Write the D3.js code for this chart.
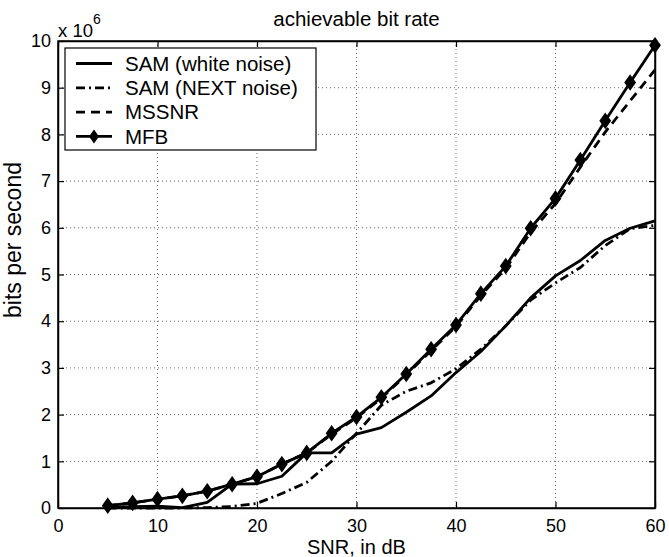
<!DOCTYPE html>
<html>
<head>
<meta charset="utf-8">
<script src="https://cdn.jsdelivr.net/npm/d3@7"></script>
<style>
  body { margin: 0; background: #fff; }
  text { font-family: "Liberation Sans", Arial, sans-serif; fill: #000; }
</style>
</head>
<body>
<div class="chart"></div>
<script>
var snr = [5, 7.5, 10, 12.5, 15, 17.5, 20, 22.5, 25, 27.5, 30, 32.5, 35, 37.5, 40, 42.5, 45, 47.5, 50, 52.5, 55, 57.5, 60];
var samWhite = [0.02, 0.03, 0.04, 0.01, 0.12, 0.51, 0.52, 0.68, 1.18, 1.18, 1.58, 1.72, 2.05, 2.4, 2.9, 3.35, 3.9, 4.5, 4.97, 5.3, 5.73, 5.99, 6.15];
var samNext = [0, 0, 0, 0, 0.01, 0.03, 0.1, 0.31, 0.55, 1.0, 1.6, 2.2, 2.5, 2.68, 2.98, 3.4, 3.9, 4.45, 4.82, 5.15, 5.62, 5.98, 6.05];
var mssnr = [0.05, 0.11, 0.19, 0.26, 0.36, 0.51, 0.67, 0.94, 1.18, 1.58, 1.93, 2.35, 2.85, 3.37, 3.89, 4.55, 5.13, 5.9, 6.52, 7.3, 8.05, 8.72, 9.38];
var mfb = [0.05, 0.11, 0.19, 0.26, 0.36, 0.51, 0.67, 0.94, 1.18, 1.6, 1.95, 2.37, 2.87, 3.4, 3.92, 4.59, 5.18, 5.99, 6.63, 7.45, 8.29, 9.11, 9.91];
var xTicks = [0, 10, 20, 30, 40, 50, 60];
var yTicks = [0, 1, 2, 3, 4, 5, 6, 7, 8, 9, 10];
var legendLabels = ['SAM (white noise)', 'SAM (NEXT noise)', 'MSSNR', 'MFB'];

var margin = {top: 41, right: 14, bottom: 49, left: 58};
var width = 669 - margin.left - margin.right;
var height = 557 - margin.top - margin.bottom;

var svg = d3.select('.chart')
  .append('svg')
    .attr('width', 669)
    .attr('height', 557)
  .append('g')
    .attr('transform', `translate(${margin.left}, ${margin.top})`);

var xScale = d3.scaleLinear().domain([0, 60]).range([0, width]);
var yScale = d3.scaleLinear().domain([0, 10]).range([height, 0]);

// grid
svg.append('g')
  .selectAll('line')
  .data(xTicks.slice(1, -1))
  .enter().append('line')
    .attr('x1', d => xScale(d)).attr('x2', d => xScale(d))
    .attr('y1', 0).attr('y2', height)
    .attr('stroke', '#666').attr('stroke-width', 1)
    .attr('stroke-dasharray', '1,3');

svg.append('g')
  .selectAll('line')
  .data(yTicks.slice(1, -1))
  .enter().append('line')
    .attr('x1', 0).attr('x2', width)
    .attr('y1', d => yScale(d)).attr('y2', d => yScale(d))
    .attr('stroke', '#666').attr('stroke-width', 1)
    .attr('stroke-dasharray', '1,3');

// axes, ticks pointing inward on all four sides
svg.append('g')
  .attr('transform', `translate(0, ${height})`)
  .call(d3.axisBottom(xScale).tickValues(xTicks).tickSizeInner(-6).tickSizeOuter(0).tickPadding(11));
svg.append('g')
  .call(d3.axisLeft(yScale).tickValues(yTicks).tickSizeInner(-6).tickSizeOuter(0).tickPadding(7));
svg.append('g')
  .call(d3.axisTop(xScale).tickValues(xTicks).tickSizeInner(-6).tickSizeOuter(0).tickFormat(''));
svg.append('g')
  .attr('transform', `translate(${width}, 0)`)
  .call(d3.axisRight(yScale).tickValues(yTicks).tickSizeInner(-6).tickSizeOuter(0).tickFormat(''));

svg.selectAll('.domain').attr('stroke', '#000').attr('stroke-width', 1.5);
svg.selectAll('.tick line').attr('stroke', '#000').attr('stroke-width', 1.2);
svg.selectAll('.tick text')
  .style('font-family', '"Liberation Sans", Arial, sans-serif')
  .style('font-size', '18px').attr('fill', '#000');

svg.append('rect')
  .attr('width', width).attr('height', height)
  .attr('fill', 'none').attr('stroke', '#000').attr('stroke-width', 1.5);

// series
var series = [
  {name: legendLabels[0], values: samWhite, dash: null},
  {name: legendLabels[1], values: samNext, dash: '9,4,2,4'},
  {name: legendLabels[2], values: mssnr, dash: '9,6'},
  {name: legendLabels[3], values: mfb, dash: null, marker: true}
];

var line = d3.line()
  .x((d, i) => xScale(snr[i]))
  .y(d => yScale(d));

var diamond = 'M0,-7L5,0L0,7L-5,0Z';

series.forEach(function(s) {
  svg.append('path')
    .datum(s.values)
    .attr('d', line)
    .attr('fill', 'none')
    .attr('stroke', '#000')
    .attr('stroke-width', 2.8)
    .attr('stroke-linejoin', 'round')
    .attr('stroke-dasharray', s.dash);
  if (s.marker) {
    svg.append('g')
      .selectAll('path')
      .data(s.values)
      .enter().append('path')
        .attr('d', diamond)
        .attr('transform', (d, i) => `translate(${xScale(snr[i])}, ${yScale(d)})`)
        .attr('fill', '#000').attr('stroke', '#000').attr('stroke-width', 1.5);
  }
});

// legend
var legend = svg.append('g').attr('transform', 'translate(7, 7)');
legend.append('rect')
  .attr('width', 251).attr('height', 102)
  .attr('fill', '#fff').attr('stroke', '#000').attr('stroke-width', 1.2);
var rows = legend.selectAll('.row')
  .data(series)
  .enter().append('g')
    .attr('transform', (d, i) => `translate(0, ${15.5 + i * 24.3})`);
rows.append('line')
  .attr('x1', 11).attr('x2', 47)
  .attr('stroke', '#000').attr('stroke-width', 2.8)
  .attr('stroke-dasharray', d => d.dash);
rows.filter(d => d.marker).append('path')
  .attr('d', diamond)
  .attr('transform', 'translate(29, 0)')
  .attr('fill', '#000');
rows.append('text')
  .attr('x', 60).attr('dy', '0.36em')
  .style('font-size', '20.5px')
  .text(d => d.name);

// titles
svg.append('text')
  .attr('x', width / 2).attr('y', -15)
  .attr('text-anchor', 'middle')
  .style('font-size', '20.5px')
  .text('achievable bit rate');

var exp = svg.append('text')
  .attr('x', 0).attr('y', -4)
  .style('font-size', '18.5px');
exp.append('tspan').text('x 10');
exp.append('tspan').attr('dy', -13).style('font-size', '14px').text('6');

svg.append('text')
  .attr('x', width / 2).attr('y', height + 46)
  .attr('text-anchor', 'middle')
  .style('font-size', '20px')
  .text('SNR, in dB');

svg.append('text')
  .attr('transform', `translate(-37, ${240 - margin.top}) rotate(-90)`)
  .attr('text-anchor', 'middle')
  .style('font-size', '23px')
  .text('bits per second');
</script>
</body>
</html>
